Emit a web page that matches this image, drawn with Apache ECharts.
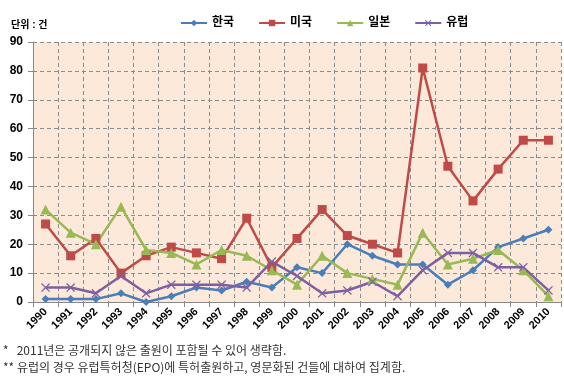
<!DOCTYPE html>
<html>
<head>
<meta charset="utf-8">
<script src="https://cdn.jsdelivr.net/npm/echarts@6/dist/echarts.min.js"></script>
<style>
  html, body { margin: 0; padding: 0; background: #fff; }
  #chart { width: 564px; height: 377px; }
</style>
</head>
<body>
<div id="chart"></div>
<script>
const years = ['1990','1991','1992','1993','1994','1995','1996','1997','1998','1999','2000',
  '2001','2002','2003','2004','2005','2006','2007','2008','2009','2010'];
const korea  = [1, 1, 1, 3, 0, 2, 5, 4, 7, 5, 12, 10, 20, 16, 13, 13, 6, 11, 19, 22, 25];
const usa    = [27, 16, 22, 10, 16, 19, 17, 15, 29, 12, 22, 32, 23, 20, 17, 81, 47, 35, 46, 56, 56];
const japan  = [32, 24, 20, 33, 18, 17, 13, 18, 16, 11, 6, 16, 10, 8, 6, 24, 13, 15, 18, 11, 2];
const europe = [5, 5, 3, 9, 3, 6, 6, 6, 5, 14, 9, 3, 4, 7, 2, 11, 17, 17, 12, 12, 4];
const seriesNames = ['한국', '미국', '일본', '유럽'];
const yTicks = [0, 10, 20, 30, 40, 50, 60, 70, 80, 90];

const font = 'Arial, "Liberation Sans", "Noto Sans CJK KR", sans-serif';
const noteFont = '"Noto Sans CJK KR", sans-serif';
const xMark = 'path://M0,1L1,0L5,4L9,0L10,1L6,5L10,9L9,10L5,6L1,10L0,9L4,5Z';

const chart = echarts.init(document.getElementById('chart'));

function makeSeries(name, data, color, symbol, size) {
  return {
    name: name,
    type: 'line',
    data: data,
    symbol: symbol,
    symbolSize: size,
    lineStyle: { width: 2.5, color: color },
    itemStyle: { color: color },
    z: 3
  };
}

const option = {
  animation: false,
  textStyle: { fontFamily: font },
  legend: {
    top: 12,
    left: 175,
    itemWidth: 26,
    itemHeight: 8,
    itemGap: 24,
    textStyle: { fontSize: 12, fontWeight: 'bold', color: '#000', fontFamily: font },
    data: seriesNames
  },
  graphic: [
    { type: 'text', left: 11, top: 20,
      style: { text: '단위 : 건', fontSize: 10, fontWeight: 'bold', fill: '#000', fontFamily: font } },
    { type: 'text', left: 3, top: 344,
      style: { text: '*   2011년은 공개되지 않은 출원이 포함될 수 있어 생략함.', fontSize: 12, fill: '#333', fontFamily: noteFont } },
    { type: 'text', left: 3, top: 361,
      style: { text: '** 유럽의 경우 유럽특허청(EPO)에 특허출원하고, 영문화된 건들에 대하여 집계함.', fontSize: 12, fill: '#333', fontFamily: noteFont } }
  ],
  grid: {
    left: 33,
    right: 3,
    top: 42,
    bottom: 75,
    show: true,
    backgroundColor: '#FDE9D9',
    borderWidth: 0
  },
  xAxis: {
    type: 'category',
    data: years,
    boundaryGap: true,
    axisLine: { lineStyle: { color: '#888', width: 1 } },
    axisTick: { show: true, alignWithLabel: false, length: 5, lineStyle: { color: '#888' } },
    axisLabel: { rotate: 45, interval: 0, fontSize: 11, fontWeight: 'bold', color: '#000', margin: 8 },
    splitLine: { show: true, interval: 0, lineStyle: { type: [4, 3], color: '#8c8c8c' } }
  },
  yAxis: {
    type: 'value',
    min: yTicks[0],
    max: yTicks[yTicks.length - 1],
    interval: 10,
    axisLine: { show: true, lineStyle: { color: '#888', width: 1 } },
    axisTick: { show: true, length: 5, lineStyle: { color: '#888' } },
    axisLabel: { fontSize: 12, fontWeight: 'bold', color: '#000', margin: 10 },
    splitLine: { show: true, lineStyle: { type: [4, 3], color: '#8c8c8c' } }
  },
  series: [
    makeSeries(seriesNames[0], korea, '#4A7EBB', 'diamond', 8),
    makeSeries(seriesNames[1], usa, '#BE4B48', 'rect', 9),
    makeSeries(seriesNames[2], japan, '#98B954', 'triangle', 10),
    makeSeries(seriesNames[3], europe, '#7D60A0', xMark, 9)
  ]
};

chart.setOption(option);
</script>
</body>
</html>
